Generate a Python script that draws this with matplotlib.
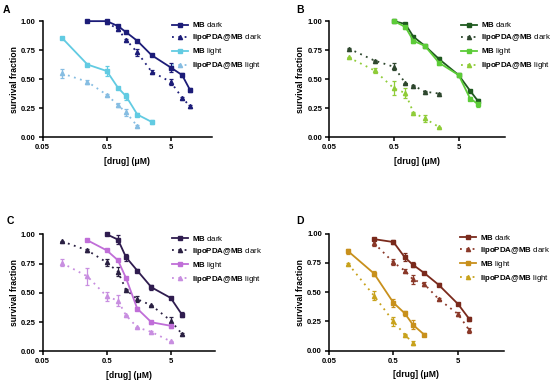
import matplotlib
matplotlib.use('Agg')
import matplotlib.pyplot as plt
from matplotlib.ticker import FixedLocator, NullLocator, FixedFormatter

plt.rcParams['font.family'] = ['Liberation Sans', 'DejaVu Sans']
plt.rcParams['mathtext.fontset'] = 'custom'
plt.rcParams['mathtext.rm'] = 'Liberation Sans'
plt.rcParams['mathtext.bf'] = 'Liberation Sans:bold'

# A
a_mb_dark_x = [0.25, 0.5, 0.75, 1, 1.5, 2.5, 5, 7.5, 10]
a_mb_dark = [1.00, 1.00, 0.957, 0.905, 0.83, 0.707, 0.60, 0.535, 0.405]
a_mb_dark_err = [0, 0, 0.01, 0.01, 0.01, 0.01, 0.035, 0.015, 0.02]
a_lipo_dark_x = [0.5, 0.75, 1, 1.5, 2.5, 5, 7.5, 10]
a_lipo_dark = [0.99, 0.93, 0.84, 0.73, 0.565, 0.475, 0.34, 0.265]
a_lipo_dark_err = [0, 0.01, 0.01, 0.03, 0.015, 0.025, 0.01, 0.015]
a_mb_light_x = [0.1, 0.25, 0.5, 0.75, 1, 1.5, 2.5]
a_mb_light = [0.856, 0.626, 0.57, 0.425, 0.353, 0.195, 0.132]
a_mb_light_err = [0.01, 0.01, 0.04, 0.01, 0.03, 0.01, 0.02]
a_lipo_light_x = [0.1, 0.25, 0.5, 0.75, 1, 1.5]
a_lipo_light = [0.55, 0.477, 0.365, 0.276, 0.213, 0.095]
a_lipo_light_err = [0.04, 0.02, 0.01, 0.015, 0.03, 0.01]

# B
b_mb_dark_x = [0.5, 0.75, 1, 1.5, 2.5, 5, 7.5, 10]
b_mb_dark = [1.00, 0.975, 0.865, 0.787, 0.672, 0.535, 0.40, 0.31]
b_mb_dark_err = [0, 0.01, 0.01, 0.01, 0.015, 0.01, 0.01, 0.02]
b_lipo_dark_x = [0.1, 0.25, 0.5, 0.75, 1, 1.5, 2.5]
b_lipo_dark = [0.764, 0.66, 0.606, 0.465, 0.445, 0.392, 0.376]
b_lipo_dark_err = [0.005, 0.005, 0.03, 0.005, 0.005, 0.005, 0.005]
b_mb_light_x = [0.5, 0.75, 1, 1.5, 2.5, 5, 7.5, 10]
b_mb_light = [1.00, 0.95, 0.83, 0.787, 0.64, 0.535, 0.333, 0.285]
b_mb_light_err = [0.01, 0.015, 0.02, 0.01, 0.02, 0.01, 0.015, 0.025]
b_lipo_light_x = [0.1, 0.25, 0.5, 0.75, 1, 1.5, 2.5]
b_lipo_light = [0.687, 0.575, 0.42, 0.38, 0.21, 0.161, 0.086]
b_lipo_light_err = [0.005, 0.02, 0.06, 0.04, 0.005, 0.03, 0.005]

# C
c_mb_dark_x = [0.5, 0.75, 1, 1.5, 2.5, 5, 7.5]
c_mb_dark = [1.00, 0.955, 0.805, 0.69, 0.547, 0.456, 0.313]
c_mb_dark_err = [0, 0.04, 0.03, 0.01, 0.02, 0.01, 0.02]
c_lipo_dark_x = [0.1, 0.25, 0.5, 0.75, 1, 1.5, 2.5, 5, 7.5]
c_lipo_dark = [0.94, 0.863, 0.76, 0.68, 0.527, 0.445, 0.393, 0.262, 0.148]
c_lipo_dark_err = [0.005, 0.015, 0.03, 0.04, 0.005, 0.025, 0.005, 0.03, 0.005]
c_mb_light_x = [0.25, 0.5, 0.75, 1, 1.5, 2.5, 5]
c_mb_light = [0.949, 0.863, 0.778, 0.627, 0.365, 0.248, 0.218]
c_mb_light_err = [0.005, 0.005, 0.01, 0.005, 0.015, 0.015, 0.02]
c_lipo_light_x = [0.1, 0.25, 0.5, 0.75, 1, 1.5, 2.5, 5]
c_lipo_light = [0.755, 0.64, 0.47, 0.433, 0.308, 0.205, 0.165, 0.085]
c_lipo_light_err = [0.03, 0.07, 0.04, 0.05, 0.005, 0.005, 0.005, 0.005]

# D
d_mb_dark_x = [0.25, 0.5, 0.75, 1, 1.5, 2.5, 5, 7.5]
d_mb_dark = [0.954, 0.929, 0.798, 0.735, 0.664, 0.564, 0.399, 0.27]
d_mb_dark_err = [0.01, 0.015, 0.035, 0.02, 0.005, 0.015, 0.005, 0.02]
d_lipo_dark_x = [0.25, 0.5, 0.75, 1, 1.5, 2.5, 5, 7.5]
d_lipo_dark = [0.92, 0.755, 0.684, 0.61, 0.57, 0.442, 0.313, 0.174]
d_lipo_dark_err = [0.025, 0.025, 0.015, 0.04, 0.015, 0.01, 0.02, 0.02]
d_mb_light_x = [0.1, 0.25, 0.5, 0.75, 1, 1.5]
d_mb_light = [0.849, 0.66, 0.41, 0.319, 0.222, 0.137]
d_mb_light_err = [0.02, 0.025, 0.035, 0.02, 0.04, 0.015]
d_lipo_light_x = [0.1, 0.25, 0.5, 0.75, 1]
d_lipo_light = [0.741, 0.47, 0.25, 0.137, 0.066]
d_lipo_light_err = [0.005, 0.04, 0.04, 0.005, 0.015]

labels = [r'$\mathbf{MB}$ dark', r'$\mathbf{lipoPDA@MB}$ dark',
          r'$\mathbf{MB}$ light', r'$\mathbf{lipoPDA@MB}$ light']

# (字母, 数据, 颜色, 坐标轴位置, x上限, 字母位置)
panels = [
    ('A', [(a_mb_dark_x, a_mb_dark, a_mb_dark_err),
           (a_lipo_dark_x, a_lipo_dark, a_lipo_dark_err),
           (a_mb_light_x, a_mb_light, a_mb_light_err),
           (a_lipo_light_x, a_lipo_light, a_lipo_light_err)],
     ['#1c1c78', '#1c1c78', '#62cbe2', '#86bde2'],
     [0.0776, 0.640, 0.308, 0.3045], 22, (0.005, 0.988)),
    ('B', [(b_mb_dark_x, b_mb_dark, b_mb_dark_err),
           (b_lipo_dark_x, b_lipo_dark, b_lipo_dark_err),
           (b_mb_light_x, b_mb_light, b_mb_light_err),
           (b_lipo_light_x, b_lipo_light, b_lipo_light_err)],
     ['#1f5a1f', '#2e472e', '#5ccc38', '#8fcc38'],
     [0.5987, 0.640, 0.3195, 0.3045], 26, (0.539, 0.988)),
    ('C', [(c_mb_dark_x, c_mb_dark, c_mb_dark_err),
           (c_lipo_dark_x, c_lipo_dark, c_lipo_dark_err),
           (c_mb_light_x, c_mb_light, c_mb_light_err),
           (c_lipo_light_x, c_lipo_light, c_lipo_light_err)],
     ['#2f1c4f', '#2a2042', '#c06ed8', '#c88ee0'],
     [0.0776, 0.078, 0.3133, 0.307], 24.6, (0.012, 0.432)),
    ('D', [(d_mb_dark_x, d_mb_dark, d_mb_dark_err),
           (d_lipo_dark_x, d_lipo_dark, d_lipo_dark_err),
           (d_mb_light_x, d_mb_light, d_mb_light_err),
           (d_lipo_light_x, d_lipo_light, d_lipo_light_err)],
     ['#7a2a1c', '#8a3828', '#c8901c', '#c8a21c'],
     [0.598, 0.0795, 0.318, 0.307], 25.6, (0.539, 0.432)),
]

fig = plt.figure(figsize=(5.5, 3.81), dpi=100)

for letter, series, colors, pos, xmax, lpos in panels:
    ax = fig.add_axes(pos)
    handles = []
    for i, (xs, ys, es) in enumerate(series):
        if i % 2 == 0:
            ls, mk = '-', 's'
        else:
            ls, mk = (0, (1, 2.5)), '^'
        h = ax.errorbar(xs, ys, yerr=es, color=colors[i], linestyle=ls, linewidth=1.3,
                        marker=mk, markersize=3, capsize=1.5, elinewidth=0.9,
                        capthick=0.9, clip_on=False)
        handles.append(h.lines[0])
    ax.set_xscale('log')
    ax.set_xlim(0.05, xmax)
    ax.set_ylim(0, 1)
    ax.xaxis.set_major_locator(FixedLocator([0.05, 0.5, 5]))
    ax.xaxis.set_major_formatter(FixedFormatter(['0.05', '0.5', '5']))
    ax.xaxis.set_minor_locator(NullLocator())
    ax.set_yticks([0, 0.25, 0.5, 0.75, 1.0])
    ax.set_yticklabels(['0.00', '0.25', '0.50', '0.75', '1.00'])
    for s in ['top', 'right']:
        ax.spines[s].set_visible(False)
    for s in ['left', 'bottom']:
        ax.spines[s].set_linewidth(1.1)
    ax.tick_params(width=1.1, length=3, labelsize=5.5, pad=2)
    for t in ax.get_xticklabels() + ax.get_yticklabels():
        t.set_fontweight('bold')
    ax.set_ylabel('survival fraction', fontsize=6.2, fontweight='bold', labelpad=1.5)
    ax.set_xlabel('[drug] (μM)', fontsize=6.2, fontweight='bold', labelpad=4)
    ax.patch.set_alpha(0)

    # 图例放在坐标轴右侧
    lx = pos[0] + (0.235 if letter in 'AC' else 0.239)
    ly = pos[1] + pos[3] + 0.002
    fig.legend(handles, labels, loc='upper left', bbox_to_anchor=(lx, ly),
               frameon=False, fontsize=5.7, handlelength=2.0, handletextpad=0.5,
               labelspacing=0.38, borderpad=0, borderaxespad=0)

    fig.text(lpos[0], lpos[1], letter, fontsize=7.5, fontweight='bold',
             ha='left', va='top')

fig.savefig('out.png', dpi=100)
